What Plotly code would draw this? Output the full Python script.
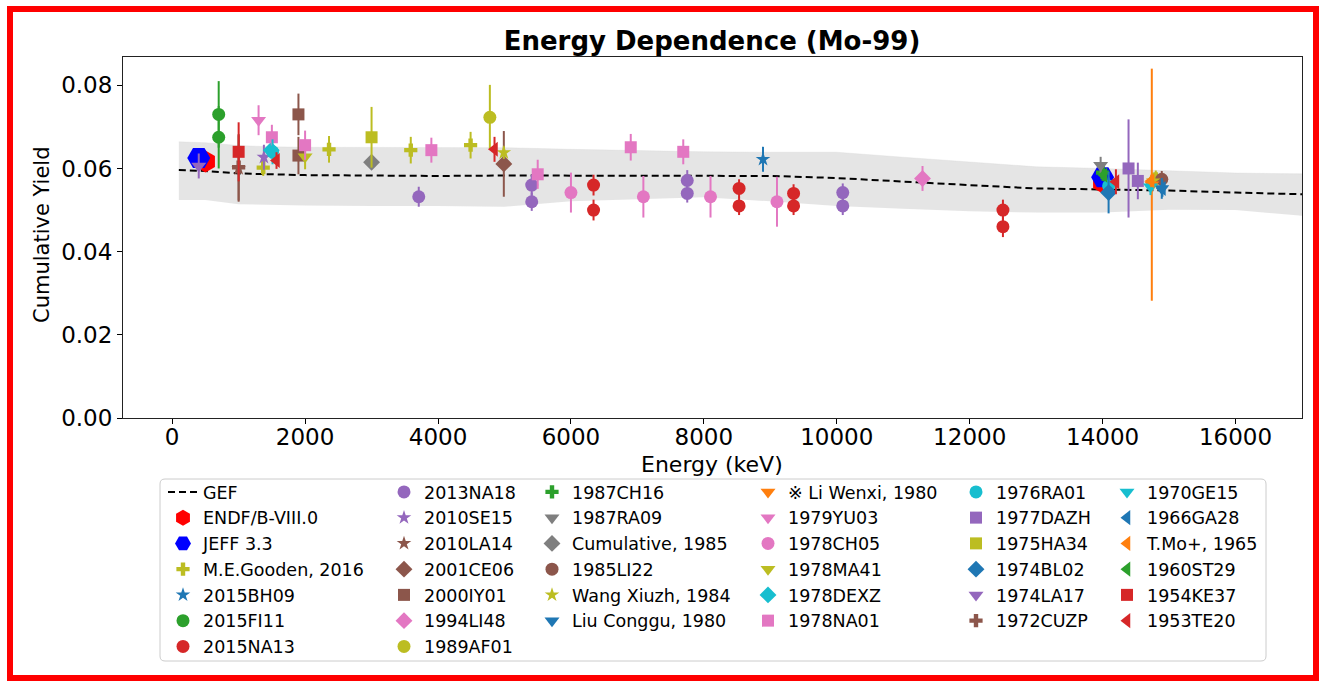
import plotly.graph_objects as go

# ---------------- data ----------------
gef_energy = [100, 500, 1000, 1500, 2000, 3000, 4000, 5000, 6000, 7000, 8000, 9000,
              10000, 11000, 12000, 13000, 14000, 15000, 16000, 17000]
gef_yield = [0.0596, 0.0594, 0.0588, 0.0586, 0.0584, 0.0583, 0.0582, 0.0583, 0.0583, 0.0583,
             0.0583, 0.0582, 0.0577, 0.0568, 0.0560, 0.0552, 0.0550, 0.0547, 0.0542, 0.0538]
gef_upper = [0.0664, 0.0662, 0.0655, 0.0652, 0.0651, 0.0651, 0.0651, 0.0650, 0.0646, 0.0643,
             0.0640, 0.0639, 0.0639, 0.0627, 0.0615, 0.0604, 0.0600, 0.0595, 0.0589, 0.0587]
gef_lower = [0.0524, 0.0524, 0.0514, 0.0512, 0.0511, 0.0510, 0.0510, 0.0508, 0.0521, 0.0526,
             0.0531, 0.0521, 0.0510, 0.0503, 0.0497, 0.0494, 0.0494, 0.0501, 0.0500, 0.0486]

endf_e = [500, 14000]
endf_y = [0.0617, 0.0566]
jeff_e = [400, 14000]
jeff_y = [0.0625, 0.0579]

gooden_e = [1370, 2360, 3590, 4490, 14800]
gooden_y = [0.0602, 0.0646, 0.0644, 0.0656, 0.0575]
gooden_err = [0.0020, 0.0032, 0.0032, 0.0032, 0.0020]

bh09_e = [8890]
bh09_y = [0.0622]
bh09_err = [0.0030]

fi11_e = [700, 700]
fi11_y = [0.0730, 0.0675]
fi11_err = [0.0080, 0.0075]

na13_e = [6340, 6340, 8530, 8530, 9350, 9350, 12500, 12500]
na13_y = [0.0560, 0.0500, 0.0552, 0.0510, 0.0540, 0.0510, 0.0500, 0.0460]
na13_err = [0.0025, 0.0025, 0.0022, 0.0022, 0.0022, 0.0022, 0.0025, 0.0025]

na18_e = [3710, 5410, 5410, 7750, 7750, 10090, 10090]
na18_y = [0.0532, 0.0560, 0.0520, 0.0571, 0.0540, 0.0542, 0.0510]
na18_err = [0.0024, 0.0025, 0.0022, 0.0025, 0.0022, 0.0022, 0.0022]

se15_e = [1380]
se15_y = [0.0627]
se15_err = [0.0030]

la14_e = [1000]
la14_y = [0.0600]
la14_err = [0.0080]

ce06_e = [4990]
ce06_y = [0.0611]
ce06_err = [0.0079]

iy01_e = [1900, 1900]
iy01_y = [0.0730, 0.0631]
iy01_err = [0.0050, 0.0045]

li48_e = [11290]
li48_y = [0.0576]
li48_err = [0.0030]

af01_e = [4780]
af01_y = [0.0723]
af01_err = [0.0078]

ch16_e = [14000]
ch16_y = [0.0590]
ch16_err = [0.0020]

ra09_e = [13970]
ra09_y = [0.0608]
ra09_err = [0.0020]

cum85_e = [3000]
cum85_y = [0.0615]
cum85_err = [0.0015]

li22_e = [14890]
li22_y = [0.0574]
li22_err = [0.0020]

wang_e = [4990, 14760]
wang_y = [0.0638, 0.0570]
wang_err = [0.0015, 0.0020]

liu_e = [14890]
liu_y = [0.0552]
liu_err = [0.0025]

liwenxi_e = [14740]
liwenxi_y = [0.0561]
liwenxi_err = [0.0279]

yu03_e = [1300]
yu03_y = [0.0716]
yu03_err = [0.0036]

ch05_e = [6000, 7090, 8100, 9100]
ch05_y = [0.0542, 0.0532, 0.0532, 0.0520]
ch05_err = [0.0048, 0.0050, 0.0050, 0.0060]

ma41_e = [2000]
ma41_y = [0.0628]
ma41_err = [0.0030]

dexz_e = [1490]
dexz_y = [0.0644]
dexz_err = [0.0020]

na01_e = [1500, 2000, 3900, 5500, 6900, 7690]
na01_y = [0.0675, 0.0656, 0.0644, 0.0586, 0.0651, 0.0640]
na01_err = [0.0030, 0.0035, 0.0030, 0.0035, 0.0032, 0.0030]

ra01_e = [1510, 14090]
ra01_y = [0.0640, 0.0558]
ra01_err = [0.0030, 0.0020]

dazh_e = [14390, 14530]
dazh_y = [0.0600, 0.0570]
dazh_err = [0.0118, 0.0044]

ha34_e = [3000]
ha34_y = [0.0675]
ha34_err = [0.0073]

bl02_e = [14090]
bl02_y = [0.0542]
bl02_err = [0.0050]

la17_e = [400]
la17_y = [0.0606]
la17_err = [0.0030]

cuzp_e = [1000]
cuzp_y = [0.0603]
cuzp_err = [0.0080]

ge15_e = [14720]
ge15_y = [0.0556]
ge15_err = [0.0020]

ga28_e = [14900]
ga28_y = [0.0552]
ga28_err = [0.0020]

tmo_e = [14730]
tmo_y = [0.0570]
tmo_err = [0.0015]

st29_e = [14020]
st29_y = [0.0584]
st29_err = [0.0015]

ke37_e = [1000]
ke37_y = [0.0640]
ke37_err = [0.0071]

te20_e = [1570, 4850, 14200]
te20_y = [0.0619, 0.0646, 0.0568]
te20_err = [0.0020, 0.0030, 0.0030]

x_ticks = [0, 2000, 4000, 6000, 8000, 10000, 12000, 14000, 16000]
y_ticks = [0.00, 0.02, 0.04, 0.06, 0.08]

# ---------------- styles ----------------
BLUE, ORANGE, GREEN, RED = '#1f77b4', '#ff7f0e', '#2ca02c', '#d62728'
PURPLE, BROWN, PINK, GRAY = '#9467bd', '#8c564b', '#e377c2', '#7f7f7f'
OLIVE, CYAN = '#bcbd22', '#17becf'

# (label, energies, yields, errors, color, symbol, size, legend)
series = [
    ('M.E.Gooden, 2016', gooden_e, gooden_y, gooden_err, OLIVE, 'cross', 11, 'legend'),
    ('2015BH09', bh09_e, bh09_y, bh09_err, BLUE, 'star', 11, 'legend'),
    ('2015FI11', fi11_e, fi11_y, fi11_err, GREEN, 'circle', 13, 'legend'),
    ('2015NA13', na13_e, na13_y, na13_err, RED, 'circle', 13, 'legend'),
    ('2013NA18', na18_e, na18_y, na18_err, PURPLE, 'circle', 13, 'legend2'),
    ('2010SE15', se15_e, se15_y, se15_err, PURPLE, 'star', 11, 'legend2'),
    ('2010LA14', la14_e, la14_y, la14_err, BROWN, 'star', 11, 'legend2'),
    ('2001CE06', ce06_e, ce06_y, ce06_err, BROWN, 'diamond', 13, 'legend2'),
    ('2000IY01', iy01_e, iy01_y, iy01_err, BROWN, 'square', 12, 'legend2'),
    ('1994LI48', li48_e, li48_y, li48_err, PINK, 'diamond', 13, 'legend2'),
    ('1989AF01', af01_e, af01_y, af01_err, OLIVE, 'circle', 13, 'legend2'),
    ('1987CH16', ch16_e, ch16_y, ch16_err, GREEN, 'cross', 11, 'legend3'),
    ('1987RA09', ra09_e, ra09_y, ra09_err, GRAY, 'triangle-down', 13, 'legend3'),
    ('Cumulative, 1985', cum85_e, cum85_y, cum85_err, GRAY, 'diamond', 13, 'legend3'),
    ('1985LI22', li22_e, li22_y, li22_err, BROWN, 'circle', 13, 'legend3'),
    ('Wang Xiuzh, 1984', wang_e, wang_y, wang_err, OLIVE, 'star', 11, 'legend3'),
    ('Liu Conggu, 1980', liu_e, liu_y, liu_err, BLUE, 'triangle-down', 13, 'legend3'),
    ('※ Li Wenxi, 1980', liwenxi_e, liwenxi_y, liwenxi_err, ORANGE, 'triangle-down', 13, 'legend4'),
    ('1979YU03', yu03_e, yu03_y, yu03_err, PINK, 'triangle-down', 13, 'legend4'),
    ('1978CH05', ch05_e, ch05_y, ch05_err, PINK, 'circle', 13, 'legend4'),
    ('1978MA41', ma41_e, ma41_y, ma41_err, OLIVE, 'triangle-down', 13, 'legend4'),
    ('1978DEXZ', dexz_e, dexz_y, dexz_err, CYAN, 'diamond', 13, 'legend4'),
    ('1978NA01', na01_e, na01_y, na01_err, PINK, 'square', 12, 'legend4'),
    ('1976RA01', ra01_e, ra01_y, ra01_err, CYAN, 'circle', 13, 'legend5'),
    ('1977DAZH', dazh_e, dazh_y, dazh_err, PURPLE, 'square', 12, 'legend5'),
    ('1975HA34', ha34_e, ha34_y, ha34_err, OLIVE, 'square', 12, 'legend5'),
    ('1974BL02', bl02_e, bl02_y, bl02_err, BLUE, 'diamond', 13, 'legend5'),
    ('1974LA17', la17_e, la17_y, la17_err, PURPLE, 'triangle-down', 13, 'legend5'),
    ('1972CUZP', cuzp_e, cuzp_y, cuzp_err, BROWN, 'cross', 11, 'legend5'),
    ('1970GE15', ge15_e, ge15_y, ge15_err, CYAN, 'triangle-down', 13, 'legend6'),
    ('1966GA28', ga28_e, ga28_y, ga28_err, BLUE, 'triangle-left', 13, 'legend6'),
    ('T.Mo+, 1965', tmo_e, tmo_y, tmo_err, ORANGE, 'triangle-left', 13, 'legend6'),
    ('1960ST29', st29_e, st29_y, st29_err, GREEN, 'triangle-left', 13, 'legend6'),
    ('1954KE37', ke37_e, ke37_y, ke37_err, RED, 'square', 12, 'legend6'),
    ('1953TE20', te20_e, te20_y, te20_err, RED, 'triangle-left', 13, 'legend6'),
]

# ---------------- geometry ----------------
W, H = 1319, 681
PL, PR, PT, PB = 123, 1302, 57, 418   # plot area in pixels


def fx(px):
    return (px - PL) / (PR - PL)


def fy(py):
    return (PB - py) / (PB - PT)


FONT = 'DejaVu Sans'

fig = go.Figure()

# GEF band
fig.add_trace(go.Scatter(x=gef_energy, y=gef_lower, mode='lines', line=dict(width=0),
                         showlegend=False, hoverinfo='skip'))
fig.add_trace(go.Scatter(x=gef_energy, y=gef_upper, mode='lines', line=dict(width=0.5, color='rgba(211,211,211,0.6)'),
                         fill='tonexty', fillcolor='rgba(211,211,211,0.6)',
                         showlegend=False, hoverinfo='skip'))
fig.add_trace(go.Scatter(x=gef_energy, y=gef_yield, mode='lines', name='GEF',
                         line=dict(color='black', width=2, dash='7px,4px'), legend='legend'))

fig.add_trace(go.Scatter(x=endf_e, y=endf_y, mode='markers', name='ENDF/B-VIII.0',
                         marker=dict(symbol='hexagon', size=22, color='#ff0000'), legend='legend'))
fig.add_trace(go.Scatter(x=jeff_e, y=jeff_y, mode='markers', name='JEFF 3.3',
                         marker=dict(symbol='hexagon2', size=23, color='#0000ff'), legend='legend'))

for label, e, y, err, color, symbol, size, leg in series:
    fig.add_trace(go.Scatter(
        x=e, y=y, mode='markers', name=label, legend=leg,
        marker=dict(symbol=symbol, size=size, color=color, line=dict(width=0)),
        error_y=dict(type='data', array=err, visible=True, color=color, thickness=2, width=0),
    ))

# legends (one per column)
col_origin_px = [163, 384, 532, 748, 956, 1107]
legend_top_px = 474
legend_names = ['legend', 'legend2', 'legend3', 'legend4', 'legend5', 'legend6']
for name, ox in zip(legend_names, col_origin_px):
    fig.layout[name] = dict(
        x=fx(ox), y=fy(legend_top_px), xref='paper', yref='paper',
        xanchor='left', yanchor='top', bgcolor='rgba(0,0,0,0)', borderwidth=0,
        font=dict(family=FONT, size=17.5, color='black'), tracegroupgap=0,
        itemsizing='trace', traceorder='normal',
    )

# rounded legend frame
lx0, lx1, ly0, ly1, rr = 160, 1266, 479, 661, 5
frame_path = (
    f"M {fx(lx0 + rr)},{fy(ly0)} L {fx(lx1 - rr)},{fy(ly0)} "
    f"Q {fx(lx1)},{fy(ly0)} {fx(lx1)},{fy(ly0 + rr)} L {fx(lx1)},{fy(ly1 - rr)} "
    f"Q {fx(lx1)},{fy(ly1)} {fx(lx1 - rr)},{fy(ly1)} L {fx(lx0 + rr)},{fy(ly1)} "
    f"Q {fx(lx0)},{fy(ly1)} {fx(lx0)},{fy(ly1 - rr)} L {fx(lx0)},{fy(ly0 + rr)} "
    f"Q {fx(lx0)},{fy(ly0)} {fx(lx0 + rr)},{fy(ly0)} Z"
)

fig.update_layout(
    width=W, height=H,
    margin=dict(l=PL, r=W - PR, t=PT, b=H - PB, autoexpand=False),
    paper_bgcolor='white', plot_bgcolor='white',
    font=dict(family=FONT, color='black'),
    title=dict(text='Energy Dependence (Mo-99)', x=fx(712), xref='paper', xanchor='center',
               y=1 - 41 / H, yref='container', yanchor='middle',
               font=dict(family=FONT, size=26, color='black', weight='bold')),
    xaxis=dict(range=[-740, 17000], tickvals=x_ticks, tickformat='d',
               ticks='outside', ticklen=5, tickwidth=1, tickcolor='black',
               ticklabelstandoff=-7,
               showline=True, mirror=True, linecolor='#222', linewidth=1,
               showgrid=False, zeroline=False, tickfont=dict(size=23, family=FONT)),
    yaxis=dict(range=[0, 0.0868], tickvals=y_ticks, tickformat='.2f',
               ticks='outside', ticklen=5, tickwidth=1, tickcolor='black',
               showline=True, mirror=True, linecolor='#222', linewidth=1,
               showgrid=False, zeroline=False, tickfont=dict(size=23, family=FONT)),
    shapes=[
        dict(type='path', path=frame_path, xref='paper', yref='paper',
             line=dict(color='#cccccc', width=1), fillcolor='rgba(255,255,255,0.8)', layer='above'),
        dict(type='rect', xref='paper', yref='paper', x0=fx(10), x1=fx(1316), y0=fy(678), y1=fy(9),
             line=dict(color='#ff0000', width=6), fillcolor='rgba(0,0,0,0)', layer='above'),
    ],
    annotations=[
        dict(text='Energy (keV)', x=fx(712), y=fy(464), xref='paper', yref='paper',
             xanchor='center', yanchor='middle', showarrow=False,
             font=dict(family=FONT, size=22, color='black')),
        dict(text='Cumulative Yield', x=fx(42), y=fy(235), xref='paper', yref='paper',
             xanchor='center', yanchor='middle', showarrow=False, textangle=-90,
             font=dict(family=FONT, size=21, color='black')),
    ],
)

fig.write_html('out.html')
